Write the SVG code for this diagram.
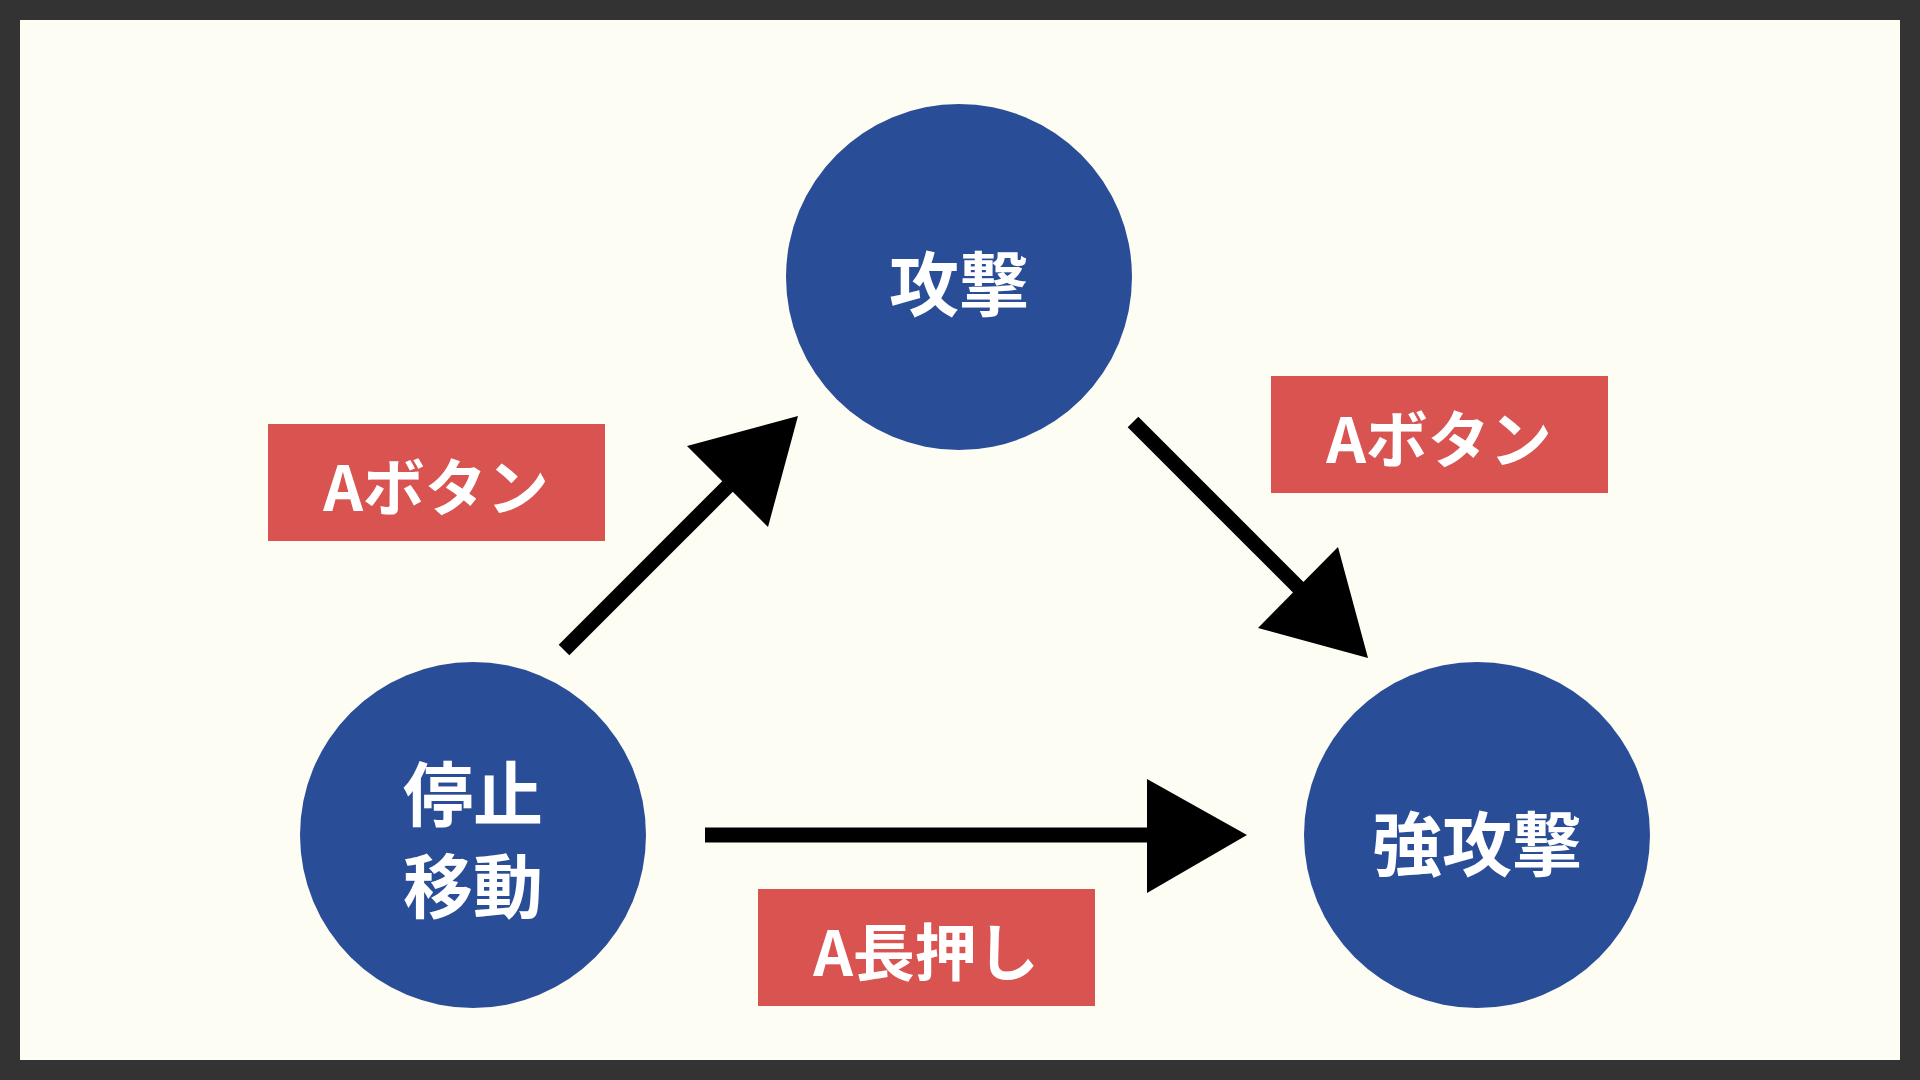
<svg xmlns="http://www.w3.org/2000/svg" width="1920" height="1080" viewBox="0 0 1920 1080">
<style>
.node{fill:#2a4d98}
.nt{fill:#fff;font-family:"Noto Sans CJK JP","Noto Sans",sans-serif;font-weight:bold;font-size:70px;text-anchor:middle;dominant-baseline:central}
.lb{fill:#d95350}
.lt{fill:#fff;font-family:"Noto Sans CJK JP","Noto Sans",sans-serif;font-weight:bold;font-size:62px;text-anchor:middle;dominant-baseline:central}
.ln{stroke:#000;stroke-width:15;fill:none}
</style>
<rect x="0" y="0" width="1920" height="1080" fill="#333"/>
<rect x="20" y="20" width="1880" height="1040" fill="#fefdf4"/>
<g id="connectors">
<line class="ln" x1="564" y1="650" x2="745" y2="469"/>
<polygon points="798,416 687,446 768,527"/>
<line class="ln" x1="1133" y1="422" x2="1315" y2="604"/>
<polygon points="1368,658 1338,547 1258,628"/>
<line class="ln" x1="705" y1="835" x2="1150" y2="835"/>
<polygon points="1247,835 1147,779 1147,893"/>
</g>
<g id="n-attack"><circle class="node" cx="959" cy="277" r="173"/><text class="nt" x="959" y="280">攻撃</text></g>
<g id="n-idle"><circle class="node" cx="473" cy="835" r="173"/><text class="nt" x="473" y="790">停止</text><text class="nt" x="473" y="882">移動</text></g>
<g id="n-strong"><circle class="node" cx="1477" cy="835" r="173"/><text class="nt" x="1477" y="840">強攻撃</text></g>
<g id="l1"><rect class="lb" x="268" y="424" width="337" height="117"/><text class="lt" x="436" y="484">Aボタン</text></g>
<g id="l2"><rect class="lb" x="1271" y="376" width="337" height="117"/><text class="lt" x="1439" y="436">Aボタン</text></g>
<g id="l3"><rect class="lb" x="758" y="889" width="337" height="117"/><text class="lt" x="926" y="949">A長押し</text></g>
</svg>
